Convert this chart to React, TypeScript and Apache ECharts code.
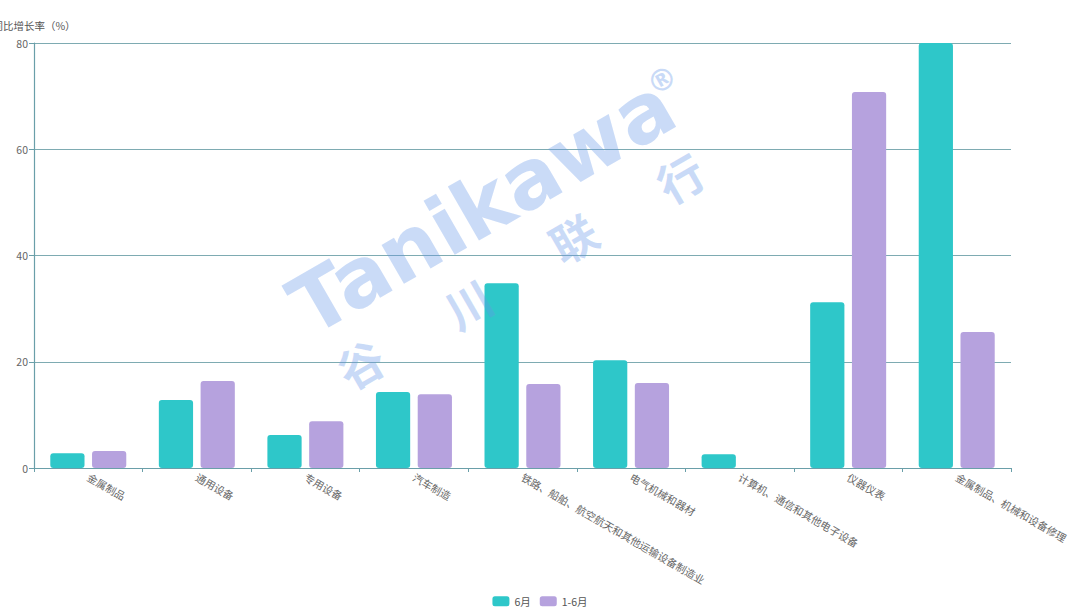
import React, { useEffect, useRef } from "react";
import * as echarts from "echarts";

const categories = [
  "金属制品",
  "通用设备",
  "专用设备",
  "汽车制造",
  "铁路、船舶、航空航天和其他运输设备制造业",
  "电气机械和器材",
  "计算机、通信和其他电子设备",
  "仪器仪表",
  "金属制品、机械和设备修理",
];
const juneValues = [2.8, 12.8, 6.2, 14.3, 34.8, 20.3, 2.6, 31.2, 100];
const h1Values: (number | null)[] = [3.2, 16.4, 8.8, 13.9, 15.8, 16.0, null, 70.8, 25.6];
const seriesNames = ["6月", "1-6月"];
const yTicks = { min: 0, max: 80, interval: 20 };
const yAxisName = "同比增长率（%）";

const deg = Math.PI / 180;
const wmColor = "rgba(100,150,232,0.34)";

export default function App() {
  const ref = useRef<HTMLDivElement>(null);
  useEffect(() => {
    if (!ref.current) return;
    const chart = echarts.init(ref.current, undefined, { renderer: "svg" });
    chart.setOption({
      animation: false,
      textStyle: { fontFamily: "'Noto Sans CJK SC', 'Noto Sans', sans-serif" },
      grid: { left: 34, right: 69, top: 43, bottom: 143, containLabel: false, outerBoundsMode: "none" },
      legend: {
        data: seriesNames,
        top: 591,
        left: "center",
        itemWidth: 17,
        itemHeight: 10,
        itemGap: 9,
        icon: "roundRect",
        textStyle: { fontSize: 10.5, color: "#555" },
      },
      xAxis: {
        type: "category",
        data: categories,
        axisLine: { lineStyle: { color: "#6a9fa9", width: 1.2 } },
        axisTick: { show: true, length: 4, lineStyle: { color: "#6a9fa9" } },
        axisLabel: { rotate: -30, fontSize: 10.5, color: "#666", interval: 0, margin: 8 },
      },
      yAxis: {
        type: "value",
        min: yTicks.min,
        max: yTicks.max,
        interval: yTicks.interval,
        name: yAxisName,
        nameTextStyle: { fontSize: 10.5, color: "#555", padding: [0, 0, 2, 0] },
        nameGap: 10,
        axisLine: { show: true, lineStyle: { color: "#6a9fa9", width: 1.2 } },
        axisTick: { show: true, length: 5, lineStyle: { color: "#6a9fa9" } },
        axisLabel: { fontSize: 10.5, color: "#666", margin: 6 },
        splitLine: { lineStyle: { color: "#7eabb2" } },
      },
      series: [
        {
          name: seriesNames[0],
          type: "bar",
          data: juneValues,
          barCategoryGap: "30%",
          barGap: "22%",
          clip: true,
          itemStyle: { color: "#2ec7c9", borderRadius: 3 },
        },
        {
          name: seriesNames[1],
          type: "bar",
          data: h1Values,
          clip: true,
          itemStyle: { color: "#b6a2de", borderRadius: 3 },
        },
      ],
      graphic: [
        {
          type: "text",
          x: 482,
          y: 206,
          rotation: 30 * deg,
          z: 100,
          style: {
            text: "Tanikawa",
            fontSize: 82,
            fontWeight: 900,
            fontFamily: "'DejaVu Sans', 'Liberation Sans', sans-serif",
            fill: wmColor,
            align: "center",
            verticalAlign: "middle",
          },
        },
        {
          type: "text",
          x: 662,
          y: 80,
          rotation: 30 * deg,
          z: 100,
          style: {
            text: "®",
            fontSize: 30,
            fontWeight: 700,
            fontFamily: "'DejaVu Sans', sans-serif",
            fill: wmColor,
            align: "center",
            verticalAlign: "middle",
          },
        },
        ...[
          ["谷", 360, 363],
          ["川", 468, 303],
          ["联", 573, 237],
          ["行", 680, 177],
        ].map(([t, x, y]) => ({
          type: "text",
          x: x as number,
          y: y as number,
          rotation: 30 * deg,
          z: 100,
          style: {
            text: t as string,
            fontSize: 46,
            fontWeight: 700,
            fontFamily: "'Noto Sans CJK SC', sans-serif",
            fill: wmColor,
            align: "center",
            verticalAlign: "middle",
          },
        })),
      ],
    });
    return () => chart.dispose();
  }, []);
  return <div ref={ref} style={{ width: 1080, height: 611, position: "absolute", left: 0, top: 0 }} />;
}
